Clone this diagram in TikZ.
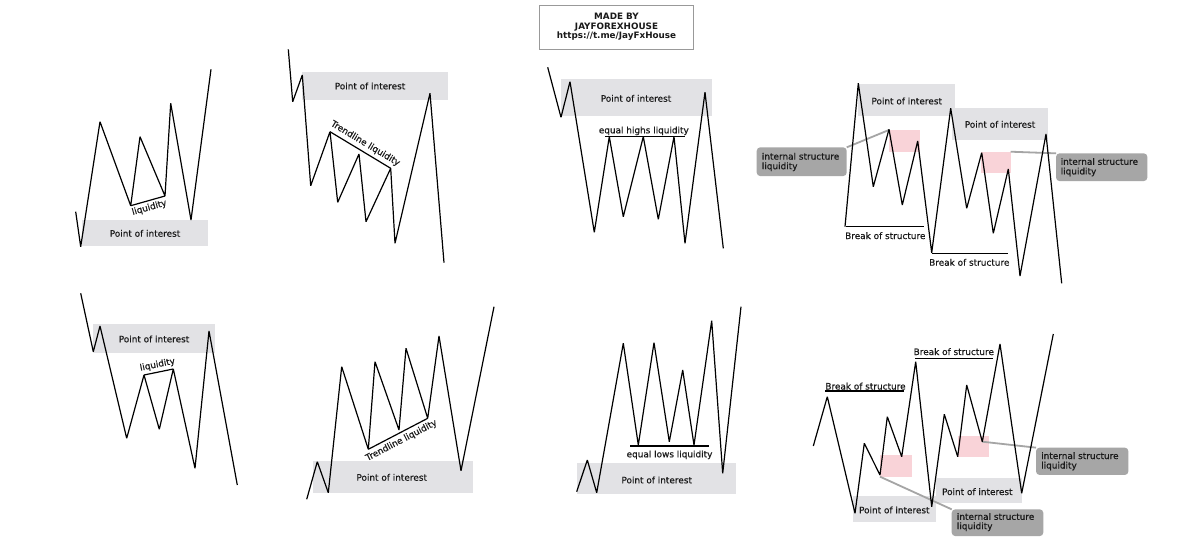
\documentclass[tikz,border=0pt]{standalone}
\usepackage{fontspec}
\setmainfont{DejaVu Sans}
\newfontfamily\lblfamily[FakeBold=0.45]{DejaVu Sans}
\definecolor{poigray}{RGB}{226,226,229}
\definecolor{islgray}{RGB}{166,166,166}
\definecolor{linkgray}{RGB}{165,165,165}
\definecolor{pinkbox}{RGB}{249,211,216}
\definecolor{txt}{RGB}{25,25,25}
\newcommand\lblfont{\lblfamily\fontsize{8.9}{9}\selectfont}
\newcommand\hdrfont{\fontsize{8.8}{9}\selectfont\bfseries}
\begin{document}
\begin{tikzpicture}[x=1pt,y=-1pt,
  chart/.style={draw=black,line width=1.2pt,line join=miter,miter limit=3},
  liqline/.style={draw=black,line width=1.2pt},
  poibox/.style={fill=poigray,inner sep=0pt,outer sep=0pt},
  pink/.style={fill=pinkbox,inner sep=0pt,outer sep=0pt},
  islbox/.style={fill=islgray,rounded corners=3.5pt,inner sep=0pt,outer sep=0pt},
  link/.style={draw=linkgray,line width=1.8pt},
  lab/.style={font=\lblfont,text=txt,inner sep=0pt},
  hdr/.style={font=\hdrfont,text=txt,inner sep=0pt,anchor=base}]
\useasboundingbox (0,0) rectangle (1200,541);
\fill[white] (0,0) rectangle (1200,541);

% header
\node[draw=gray!80,line width=0.8pt,fill=white,minimum width=154pt,minimum height=43.6pt,inner sep=0pt] (hbox) at (616.3,27.5) {};
\node[hdr] (h1) at (616.5,19) {MADE BY};
\node[hdr] (h2) at (616.5,29) {JAYFOREXHOUSE};
\node[hdr] (h3) at (616.5,38.3) {https://t.me/JayFxHouse};

% ---------- panel 1
\node[poibox,minimum width=126.6pt,minimum height=25.7pt] (poiA) at (145,232.8) {};
\node[lab,anchor=base] (poiAt) at (145,236.7) {Point of interest};
\coordinate (a1) at (130.7,205.7);
\coordinate (a2) at (165,196);
\draw[chart] (75.7,211.7) -- (80.7,246.7) -- (100,121.7) -- (a1) -- (140,136.7) -- (a2) -- (170.7,103.3) -- (191,220) -- (211,69.3);
\draw[liqline] (a1) -- (a2);
\node[lab,rotate=15.8] (liqA) at (149.3,207.8) {liquidity};

% ---------- panel 2
\node[poibox,minimum width=145.4pt,minimum height=28.3pt] (poiB) at (375,85.8) {};
\node[lab,anchor=base] (poiBt) at (370,89.3) {Point of interest};
\coordinate (b1) at (330,131.7);
\coordinate (b2) at (390.7,168.3);
\draw[chart] (288.3,49.3) -- (292.7,101.7) -- (302.3,75) -- (310.7,185.7) -- (b1) -- (337.7,202.3) -- (359,154) -- (366,221.7) -- (b2) -- (395,243.3) -- (430,93.3) -- (444,262.7);
\draw[liqline] (b1) -- (b2);
\node[lab,rotate=-31.1] (liqB) at (365.3,143.6) {Trendline liquidity};

% ---------- panel 3
\node[poibox,minimum width=151.3pt,minimum height=36.7pt] (poiC) at (636.7,97.7) {};
\node[lab,anchor=base] (poiCt) at (636,101.7) {Point of interest};
\coordinate (c1) at (605,136.7);
\coordinate (c2) at (685,136.7);
\draw[chart] (547.7,67.3) -- (561,117.3) -- (570,81.7) -- (594.3,232.3) -- (609.3,136.7) -- (623.3,216.7) -- (643.3,136.7) -- (658.3,219.3) -- (674,136.7) -- (685,243.3) -- (705,92.3) -- (723.3,248.3);
\draw[liqline] (c1) -- (c2);
\node[lab,anchor=base] (liqC) at (643.8,133.3) {equal highs liquidity};

% ---------- panel 4
\node[poibox,minimum width=96.7pt,minimum height=32pt] (poiD1) at (906.7,100) {};
\node[poibox,minimum width=96.6pt,minimum height=31.7pt] (poiD2) at (1000,124.2) {};
\node[lab,anchor=base] (poiD1t) at (906.7,104.3) {Point of interest};
\node[lab,anchor=base] (poiD2t) at (1000,127.7) {Point of interest};
\node[pink,minimum width=31pt,minimum height=21.7pt] (pkD1) at (904.5,140.8) {};
\node[pink,minimum width=30pt,minimum height=21.6pt] (pkD2) at (995.7,162.5) {};
\node[islbox,minimum width=90pt,minimum height=28.7pt] (islD1) at (801.7,161.7) {};
\node[islbox,minimum width=91.3pt,minimum height=27.7pt] (islD2) at (1101.7,167.2) {};
\draw[link] (islD1.north east) -- (pkD1.north west);
\draw[link] (pkD2.north east) -- (islD2.north west);
\node[lab,anchor=base west] (islD1a) at (761.7,159.6) {internal structure};
\node[lab,anchor=base west] (islD1b) at (761.7,169.2) {liquidity};
\node[lab,anchor=base west] (islD2a) at (1060.5,164.8) {internal structure};
\node[lab,anchor=base west] (islD2b) at (1060.5,174.4) {liquidity};
\coordinate (d1) at (846,226.7);
\coordinate (d2) at (924,226.7);
\coordinate (d3) at (931.7,253.3);
\coordinate (d4) at (1008.3,253.3);
\draw[chart] (845,226.7) -- (858.3,83.3) -- (873.3,186.7) -- (889,129.3) -- (902.3,205) -- (917.7,141) -- (931.7,252.7) -- (950.7,108.3) -- (966.7,208.3) -- (981.7,152.7) -- (993.3,233.3) -- (1008.3,169) -- (1020,276) -- (1046,134) -- (1061.7,283.3);
\draw[liqline] (d1) -- (d2);
\draw[liqline] (d3) -- (d4);
\node[lab,anchor=base] (bosD1) at (885.3,239) {Break of structure};
\node[lab,anchor=base] (bosD2) at (969.3,265.7) {Break of structure};

% ---------- panel 5
\node[poibox,minimum width=121.7pt,minimum height=29pt] (poiE) at (154.2,338.8) {};
\node[lab,anchor=base] (poiEt) at (154,342.3) {Point of interest};
\coordinate (e1) at (144,375);
\coordinate (e2) at (173.3,369);
\draw[chart] (80.7,293.3) -- (93.3,351.7) -- (100,326) -- (126.7,438.3) -- (e1) -- (159.3,429.3) -- (e2) -- (195,468.3) -- (209,331) -- (237.3,485);
\draw[liqline] (e1) -- (e2);
\node[lab,rotate=11.6] (liqE) at (157.5,364.8) {liquidity};

% ---------- panel 6
\node[poibox,minimum width=160pt,minimum height=31.7pt] (poiF) at (392.7,476.8) {};
\node[lab,anchor=base] (poiFt) at (391.7,480.7) {Point of interest};
\coordinate (f1) at (368.3,449.3);
\coordinate (f2) at (427.7,418.3);
\draw[chart] (306.7,499.3) -- (317.3,461.7) -- (328.3,492.7) -- (341.7,366.7) -- (f1) -- (375,361.7) -- (399,430) -- (406,348.3) -- (f2) -- (439,336) -- (461,470.7) -- (494,306.7);
\draw[liqline] (f1) -- (f2);
\node[lab,rotate=27.6] (liqF) at (401.4,440.6) {Trendline liquidity};

% ---------- panel 7
\node[poibox,minimum width=159pt,minimum height=31.6pt] (poiG) at (656.2,478.5) {};
\node[lab,anchor=base] (poiGt) at (656.7,483.3) {Point of interest};
\coordinate (g1) at (630,446);
\coordinate (g2) at (709.3,446);
\draw[chart] (576.7,491.7) -- (587.3,460) -- (596.7,492.7) -- (623.3,343.3) -- (638.3,445) -- (654,342.7) -- (669.3,441.7) -- (682.7,370) -- (694,445) -- (711.7,320.7) -- (722.7,473.3) -- (741,306.7);
\draw[liqline] (g1) -- (g2);
\node[lab,anchor=base] (liqG) at (669.5,457.3) {equal lows liquidity};

% ---------- panel 8
\node[poibox,minimum width=82.7pt,minimum height=25.7pt] (poiH1) at (894.7,508.8) {};
\node[poibox,minimum width=85.7pt,minimum height=25pt] (poiH2) at (978.8,490.2) {};
\node[pink,minimum width=31.7pt,minimum height=21.7pt] (pkH1) at (895.8,465.8) {};
\node[pink,minimum width=31pt,minimum height=21.3pt] (pkH2) at (973.8,446.7) {};
\node[islbox,minimum width=91.6pt,minimum height=26.7pt] (islH1) at (997.5,522.7) {};
\node[islbox,minimum width=92.3pt,minimum height=27.3pt] (islH2) at (1082.2,461.3) {};
\coordinate (hl2) at (982.3,441.7);
\draw[link] (pkH1.south west) -- (islH1.north west);
\draw[link] (hl2) -- (islH2.north west);
\node[lab,anchor=base] (poiH1t) at (894.3,513.3) {Point of interest};
\node[lab,anchor=base] (poiH2t) at (977.3,495) {Point of interest};
\node[lab,anchor=base west] (islH1a) at (956.7,519.8) {internal structure};
\node[lab,anchor=base west] (islH1b) at (956.7,529.2) {liquidity};
\node[lab,anchor=base west] (islH2a) at (1041,459) {internal structure};
\node[lab,anchor=base west] (islH2b) at (1041,468.5) {liquidity};
\coordinate (k1) at (825,391);
\coordinate (k2) at (904,391);
\coordinate (k3) at (915,358.3);
\coordinate (k4) at (992.7,358.3);
\draw[chart] (813.3,446) -- (827.3,396.7) -- (855,513.3) -- (864.3,443.3) -- (880,475) -- (887.3,416.7) -- (901.7,456.7) -- (915.7,361.7) -- (931.7,506.7) -- (944.3,414.3) -- (957.7,456.7) -- (966.7,385) -- (hl2) -- (1000,344) -- (1021.7,493.3) -- (1053.3,334);
\draw[liqline] (k1) -- (k2);
\draw[liqline] (k3) -- (k4);
\node[lab,anchor=base] (bosH1) at (865.5,389.5) {Break of structure};
\node[lab,anchor=base] (bosH2) at (953.8,355) {Break of structure};
\end{tikzpicture}
\end{document}
